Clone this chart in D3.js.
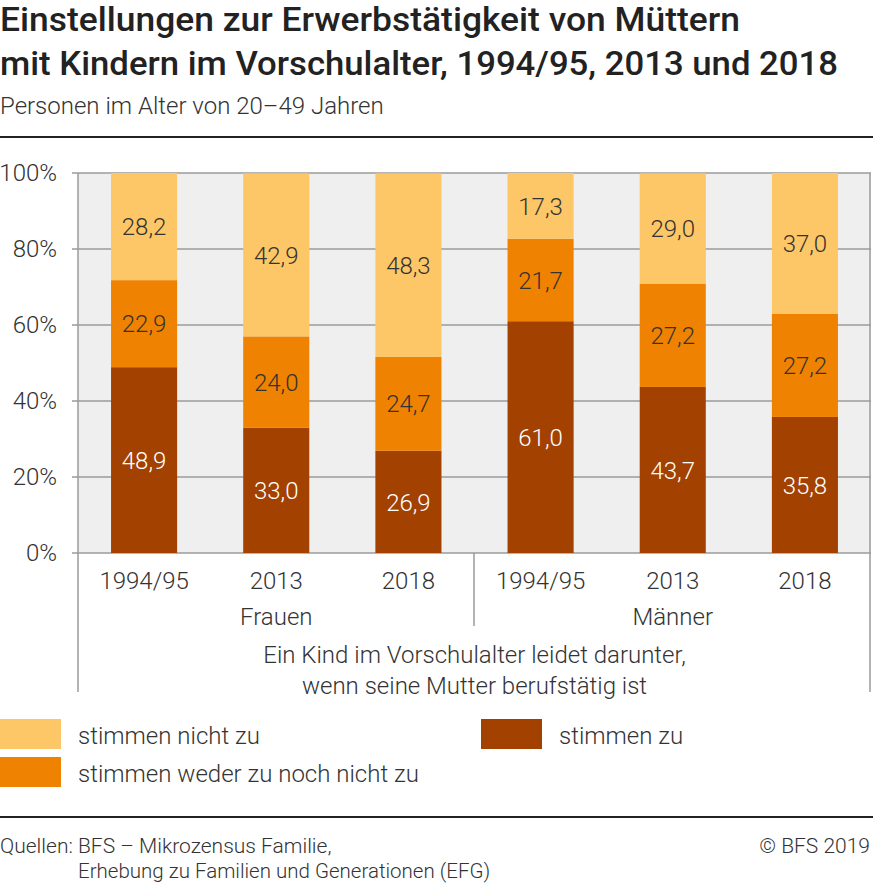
<!DOCTYPE html>
<html><head><meta charset="utf-8">
<script src="https://cdn.jsdelivr.net/npm/d3@7"></script>
<style>
html,body{margin:0;padding:0;background:#fff;}
svg{display:block;font-family:Roboto,"Noto Sans",sans-serif;}
</style></head>
<body>
<svg id="chart" width="873" height="885"></svg>
<script>
const groups = ["Frauen", "Männer"];
const years = ["1994/95", "2013", "2018"];
const seriesKeys = ["stimmen zu", "stimmen weder zu noch nicht zu", "stimmen nicht zu"];
const zuValues = [48.9, 33.0, 26.9, 61.0, 43.7, 35.8];
const wederValues = [22.9, 24.0, 24.7, 21.7, 27.2, 27.2];
const nichtValues = [28.2, 42.9, 48.3, 17.3, 29.0, 37.0];
const yTicks = [0, 20, 40, 60, 80, 100];
const colors = ["#a34100", "#ef8200", "#fdc666"];
const labelColors = ["#ffffff", "#333333", "#333333"];

(function(){
const svg = d3.select("#chart");
const W = 873;
const pLeft = 78, pRight = 871, pTop = 173, pBottom = 553;
const FS = 24;

// titles
svg.append("text").attr("x", 0).attr("y", 31).attr("font-size", 33).attr("font-weight", 500).attr("fill", "#222")
  .attr("textLength", 740).attr("lengthAdjust", "spacingAndGlyphs")
  .text("Einstellungen zur Erwerbstätigkeit von Müttern");
svg.append("text").attr("x", 0).attr("y", 75).attr("font-size", 33).attr("font-weight", 500).attr("fill", "#222")
  .attr("textLength", 838).attr("lengthAdjust", "spacingAndGlyphs")
  .text("mit Kindern im Vorschulalter, 1994/95, 2013 und 2018");
svg.append("text").attr("x", 0).attr("y", 114).attr("font-size", FS).attr("font-weight", 300).attr("fill", "#333")
  .text("Personen im Alter von 20–49 Jahren");
svg.append("line").attr("x1", 0).attr("x2", W).attr("y1", 137).attr("y2", 137).attr("stroke", "#222").attr("stroke-width", 2);

// data rows
const cats = [];
groups.forEach(g => years.forEach(y => cats.push(g + "|" + y)));
const rows = cats.map((c, i) => ({
  key: c,
  "stimmen zu": zuValues[i],
  "stimmen weder zu noch nicht zu": wederValues[i],
  "stimmen nicht zu": nichtValues[i]
}));
const stacked = d3.stack().keys(seriesKeys)(rows);

const x = d3.scaleBand().domain(cats).range([pLeft, pRight]).paddingInner(0.5).paddingOuter(0.25);
const y = d3.scaleLinear().domain([0, 100]).range([pBottom, pTop]);

// background
svg.append("rect").attr("x", pLeft).attr("y", pTop).attr("width", pRight - pLeft).attr("height", pBottom - pTop).attr("fill", "#efefef");

// grid
svg.append("g").selectAll("line").data(yTicks).join("line")
  .attr("x1", pLeft - 6).attr("x2", pRight).attr("y1", d => y(d)).attr("y2", d => y(d))
  .attr("stroke", "#9b9b9b").attr("stroke-width", 1.5);

// bars
const layer = svg.append("g").selectAll("g").data(stacked).join("g").attr("fill", (d, i) => colors[i]);
layer.selectAll("rect").data(d => d).join("rect")
  .attr("x", d => x(d.data.key)).attr("width", x.bandwidth())
  .attr("y", d => y(d[1])).attr("height", d => y(d[0]) - y(d[1]));

// labels
stacked.forEach((s, si) => {
  svg.append("g").selectAll("text").data(s).join("text")
    .attr("x", d => x(d.data.key) + x.bandwidth() / 2)
    .attr("y", d => y((d[0] + d[1]) / 2))
    .attr("dy", "0.36em")
    .attr("text-anchor", "middle").attr("font-size", FS).attr("font-weight", 300)
    .attr("fill", labelColors[si])
    .text(d => d3.format(".1f")(d[1] - d[0]).replace(".", ","));
});

// y axis tick labels
const yAxis = d3.axisLeft(y).tickValues(yTicks).tickSize(0).tickPadding(21).tickFormat(d => d + "%");
const ya = svg.append("g").attr("transform", `translate(${pLeft},0)`).call(yAxis);
ya.select(".domain").remove();
ya.selectAll("text").attr("font-size", FS).attr("font-weight", 300).attr("fill", "#333").attr("font-family", "Roboto");

// axis frame lines
svg.append("line").attr("x1", pLeft).attr("x2", pLeft).attr("y1", pTop).attr("y2", 692).attr("stroke", "#9b9b9b").attr("stroke-width", 1.5);
svg.append("line").attr("x1", pRight - 1).attr("x2", pRight - 1).attr("y1", pTop).attr("y2", 692).attr("stroke", "#9b9b9b").attr("stroke-width", 1.5);
svg.append("line").attr("x1", (pLeft + pRight) / 2 - 0.5).attr("x2", (pLeft + pRight) / 2 - 0.5).attr("y1", pBottom).attr("y2", 626).attr("stroke", "#9b9b9b").attr("stroke-width", 1.5);

// x tick labels
const xAxis = d3.axisBottom(x).tickSize(0).tickPadding(19).tickFormat(d => d.split("|")[1]);
const xa = svg.append("g").attr("transform", `translate(0,${pBottom})`).call(xAxis);
xa.select(".domain").remove();
xa.selectAll("text").attr("font-size", FS).attr("font-weight", 300).attr("fill", "#333").attr("font-family", "Roboto");

// group labels
svg.append("g").selectAll("text").data(groups).join("text")
  .attr("x", g => (x(g + "|" + years[0]) + x(g + "|" + years[years.length - 1]) + x.bandwidth()) / 2)
  .attr("y", 625).attr("text-anchor", "middle").attr("font-size", FS).attr("font-weight", 300).attr("fill", "#333")
  .text(g => g);

// axis title
svg.append("text").attr("x", (pLeft + pRight) / 2).attr("y", 663).attr("text-anchor", "middle").attr("font-size", FS).attr("font-weight", 300).attr("fill", "#333")
  .text("Ein Kind im Vorschulalter leidet darunter,");
svg.append("text").attr("x", (pLeft + pRight) / 2).attr("y", 694).attr("text-anchor", "middle").attr("font-size", FS).attr("font-weight", 300).attr("fill", "#333")
  .text("wenn seine Mutter berufstätig ist");

// legend
const legendOrder = [
  {k: 2, x: 0, y: 719},
  {k: 1, x: 0, y: 757},
  {k: 0, x: 481, y: 719}
];
const lg = svg.append("g").selectAll("g").data(legendOrder).join("g").attr("transform", d => `translate(${d.x},${d.y})`);
lg.append("rect").attr("width", 61).attr("height", 30).attr("fill", d => colors[d.k]);
lg.append("text").attr("x", 78).attr("y", 16).attr("dy", "0.36em").attr("font-size", FS).attr("font-weight", 300).attr("fill", "#333")
  .text(d => seriesKeys[d.k]);

// footer
svg.append("line").attr("x1", 0).attr("x2", W).attr("y1", 817).attr("y2", 817).attr("stroke", "#222").attr("stroke-width", 2);
svg.append("text").attr("x", 0).attr("y", 853).attr("font-size", 21).attr("font-weight", 300).attr("fill", "#333")
  .text("Quellen: BFS – Mikrozensus Familie,");
svg.append("text").attr("x", 78).attr("y", 878).attr("font-size", 20.5).attr("font-weight", 300).attr("fill", "#333")
  .text("Erhebung zu Familien und Generationen (EFG)");
svg.append("text").attr("x", 870).attr("y", 853).attr("text-anchor", "end").attr("font-size", 21).attr("font-weight", 300).attr("fill", "#333")
  .text("© BFS 2019");
})();
</script>
</body></html>
